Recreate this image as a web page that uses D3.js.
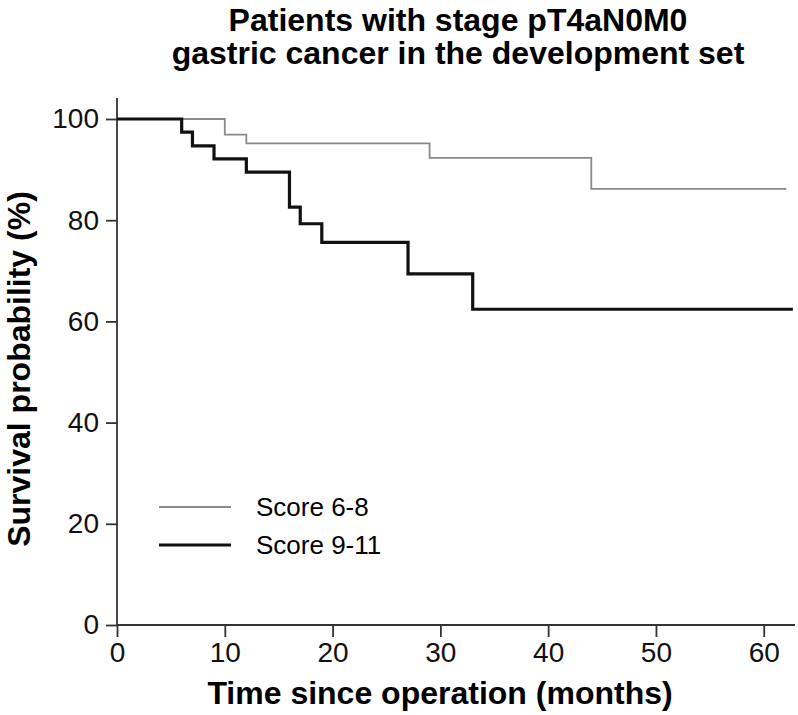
<!DOCTYPE html>
<html>
<head>
<meta charset="utf-8">
<script src="https://cdn.jsdelivr.net/npm/d3@7"></script>
<style>
  html, body { margin: 0; padding: 0; background: #fff; }
  svg { display: block; font-family: "Liberation Sans", Arial, sans-serif; }
</style>
</head>
<body>
<svg id="chart" width="798" height="715"></svg>
<script>
// ---- data ----
const titleLines = ["Patients with stage pT4aN0M0", "gastric cancer in the development set"];
const xLabel = "Time since operation (months)";
const yLabel = "Survival probability (%)";
const xTicks = [0, 10, 20, 30, 40, 50, 60];
const yTicks = [0, 20, 40, 60, 80, 100];
const seriesNames = ["Score 6-8", "Score 9-11"];
const lowTimes = [0, 10, 12, 29, 44, 62.1];
const lowSurv  = [100, 96.9, 95.2, 92.3, 86.2, 86.2];
const highTimes = [0, 6, 7, 9, 12, 16, 17, 19, 27, 33, 62.7];
const highSurv  = [100, 97.4, 94.7, 92.1, 89.5, 82.6, 79.3, 75.6, 69.4, 62.4, 62.4];

const svg = d3.select("#chart");
const x = d3.scaleLinear().domain([0, 62.9]).range([117, 795]);
const y = d3.scaleLinear().domain([0, 100]).range([625, 119]);

// title
svg.append("g").selectAll("text").data(titleLines).join("text")
  .attr("x", 458).attr("y", (d, i) => 31 + i * 33)
  .attr("text-anchor", "middle").attr("font-size", 32).attr("font-weight", "bold")
  .attr("fill", "#000").text(d => d);

// axes
const axisColor = "#333";
const xAxis = svg.append("g").attr("transform", `translate(0,${y(0)})`)
  .call(d3.axisBottom(x).tickValues(xTicks).tickSize(12).tickPadding(5).tickFormat(d3.format("d")));
xAxis.select(".domain").attr("d", `M${x(0)},0H795`);
const yAxis = svg.append("g").attr("transform", `translate(${x(0)},0)`)
  .call(d3.axisLeft(y).tickValues(yTicks).tickSize(11).tickPadding(7).tickFormat(d3.format("d")));
yAxis.select(".domain").attr("d", `M0,98V${y(0)}`);
[xAxis, yAxis].forEach(g => {
  g.selectAll(".domain, line").attr("stroke", axisColor).attr("stroke-width", 1.8);
  g.selectAll("text").attr("font-size", 28).attr("fill", "#111")
    .attr("font-family", '"Liberation Sans", Arial, sans-serif');
});

// axis labels
svg.append("text").attr("x", 440).attr("y", 704).attr("text-anchor", "middle")
  .attr("font-size", 32).attr("font-weight", "bold").attr("fill", "#000").text(xLabel);
svg.append("text").attr("transform", "translate(30,369) rotate(-90)").attr("text-anchor", "middle")
  .attr("font-size", 32).attr("font-weight", "bold").attr("fill", "#000").text(yLabel);

// curves
const line = d3.line().x(d => x(d[0])).y(d => y(d[1])).curve(d3.curveStepAfter);
const series = [
  { name: seriesNames[0], pts: d3.zip(lowTimes, lowSurv), color: "#8a8a8a", w: 1.8 },
  { name: seriesNames[1], pts: d3.zip(highTimes, highSurv), color: "#111", w: 3.2 }
];
svg.append("g").selectAll("path").data(series).join("path")
  .attr("d", d => line(d.pts)).attr("fill", "none")
  .attr("stroke", d => d.color).attr("stroke-width", d => d.w);

// legend
const lg = svg.append("g").selectAll("g").data(series).join("g")
  .attr("transform", (d, i) => `translate(0,${507 + i * 38})`);
lg.append("line").attr("x1", 159).attr("x2", 231)
  .attr("stroke", d => d.color).attr("stroke-width", d => d.w);
lg.append("text").attr("x", 256).attr("dy", "0.35em").attr("font-size", 26)
  .attr("fill", "#000").text(d => d.name);
</script>
</body>
</html>
